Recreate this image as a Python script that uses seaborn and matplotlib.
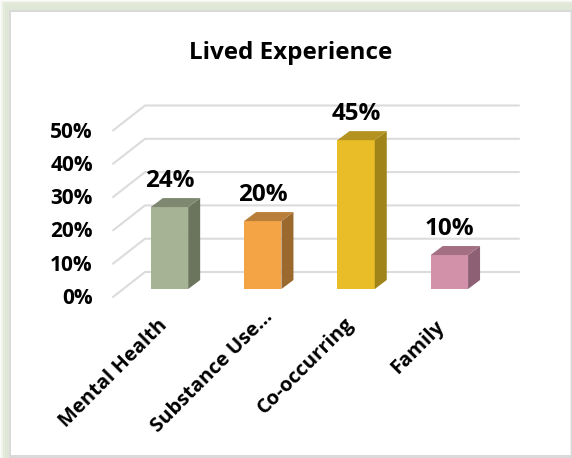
import matplotlib
matplotlib.use("Agg")
import matplotlib.pyplot as plt
import matplotlib.transforms as mtrans
from matplotlib.patches import Rectangle
import seaborn as sns

categories = ["Mental Health", "Substance Use...", "Co-occurring", "Family"]
bar_values = [24.6, 20.4, 44.7, 10.2]
value_labels = ["24%", "20%", "45%", "10%"]
y_ticks = [0, 10, 20, 30, 40, 50]
y_tick_labels = ["0%", "10%", "20%", "30%", "40%", "50%"]
front_colors = ["#A6B394", "#F4A345", "#E9BD27", "#D291A9"]
side_colors = ["#6B745C", "#9B692D", "#A08319", "#8D6173"]
top_colors = ["#7E8870", "#B97F3A", "#B39220", "#A46F83"]

W, H = 572, 458
sns.set_theme(style="white")
plt.rcParams["font.family"] = ["Open Sans", "DejaVu Sans"]
fig = plt.figure(figsize=(W / 100, H / 100), dpi=100, facecolor="white")

# picture frame: soft green glow, grey inner rim, white panel
def frame(x0, y0, x1, y1, color):
    fig.add_artist(Rectangle((x0 / W, 1 - y1 / H), (x1 - x0) / W, (y1 - y0) / H,
                             transform=fig.transFigure, fc=color, ec="none", zorder=-5))
frame(0, 0, W, H, "#FBFCF9")
frame(1, 1, W, H, "#F0F4EA")
frame(3, 2, W, H, "#E4EBDB")
frame(5, 4, W, H, "#DFE8D6")
frame(9, 10, W, H, "#D9D9D9")
frame(10.5, 11.5, 569.5, 454.5, "#FFFFFF")
frame(569.5, 11.5, 571, 454.5, "#EFEFEF")

PX_X, PX_Y = 93.3, 3.33           # pixels per category and per percentage point
left, right, top, bottom = 113, 519, 105, 297
ax = fig.add_axes([left / W, 1 - bottom / H, (right - left) / W, (bottom - top) / H])
ax.patch.set_alpha(0)

sns.barplot(x=categories, y=bar_values, hue=categories, palette=front_colors,
            width=0.40, saturation=1, legend=False, ax=ax, linewidth=0, zorder=3)
ax.set_xlim((left - 169.5) / PX_X, (right - 169.5) / PX_X)
ax.set_ylim((289 - bottom) / PX_Y, (289 - top) / PX_Y)

# receding walls of the pseudo-3D chart
back_dx, back_dy = 32 / PX_X, 25 / PX_Y
x_left = ax.get_xlim()[0]
x_right = ax.get_xlim()[1]
y_front0 = ax.get_ylim()[0]
for v in y_ticks:
    ax.plot([x_left, x_left + back_dx, x_right],
            [y_front0 + v, y_front0 + v + back_dy, y_front0 + v + back_dy],
            color="#DCDCDC", lw=1.5, zorder=1, clip_on=False, solid_capstyle="round")

# side and top faces of each bar
bar_dx, bar_dy = 12 / PX_X, 9 / PX_Y
bars = [p for p in ax.patches if p.get_height() > 0]
for bar, s, t in zip(bars, side_colors, top_colors):
    x0, x1, h = bar.get_x(), bar.get_x() + bar.get_width(), bar.get_height()
    ax.fill([x1, x1 + bar_dx, x1 + bar_dx, x1], [0, bar_dy, h + bar_dy, h],
            color=s, lw=0, zorder=3)
    ax.fill([x0, x0 + bar_dx, x1 + bar_dx, x1], [h, h + bar_dy, h + bar_dy, h],
            color=t, lw=0, zorder=3)

for i, (v, lab) in enumerate(zip(bar_values, value_labels)):
    ax.annotate(lab, (i, v), xytext=(0, 19), textcoords="offset points", ha="center",
                va="center", fontsize=17.5, fontweight="bold", color="black", annotation_clip=False)

for sp in ax.spines.values():
    sp.set_visible(False)
ax.grid(False)
ax.set_xlabel("")
ax.set_ylabel("")
ax.set_yticks(y_ticks, y_tick_labels)
ax.set_xticks(range(len(categories)), categories)
ax.tick_params(axis="both", length=0, colors="black")
ax.tick_params(axis="y", pad=14.5)
ax.tick_params(axis="x", pad=12)
down = mtrans.ScaledTranslation(0, -7 / 100, fig.dpi_scale_trans)
for lb in ax.get_yticklabels():
    lb.set_fontsize(15)
    lb.set_fontweight("bold")
    lb.set_transform(lb.get_transform() + down)
nudges_x = [-5, 7, -5, -8]
nudges_y = [-9, 0, -7, -10]
for lb, nx, ny in zip(ax.get_xticklabels(), nudges_x, nudges_y):
    lb.set_fontsize(14.5)
    lb.set_fontweight("bold")
    lb.set_rotation(45)
    lb.set_ha("right")
    lb.set_va("center")
    lb.set_rotation_mode("anchor")
    lb.set_transform(lb.get_transform() + mtrans.ScaledTranslation(nx / 100, ny / 100, fig.dpi_scale_trans))

fig.text(291 / W, 1 - 53 / H, "Lived Experience", ha="center", va="center",
         fontsize=17.5, fontweight="bold", color="black")
fig.savefig("out.png", dpi=100)
